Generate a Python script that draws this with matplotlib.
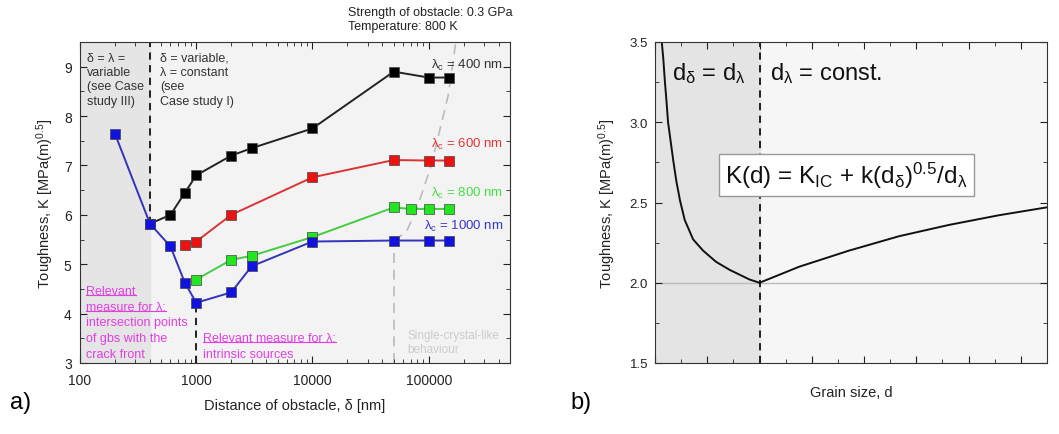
import matplotlib
matplotlib.use("Agg")
import matplotlib.pyplot as plt
from matplotlib.ticker import FixedLocator, MultipleLocator, LogLocator, NullFormatter, FormatStrFormatter, FuncFormatter
from matplotlib.lines import Line2D

plt.rcParams['font.family'] = ['Liberation Sans', 'DejaVu Sans']
plt.rcParams['mathtext.fontset'] = 'custom'
plt.rcParams['mathtext.rm'] = 'Liberation Sans'
plt.rcParams['mathtext.it'] = 'Liberation Sans:italic'
plt.rcParams['mathtext.default'] = 'regular'

# --- datos panel a) ---
d_400 = [400, 600, 800, 1000, 2000, 3000, 10000, 50000, 100000, 150000]
k_400 = [5.82, 6.0, 6.45, 6.8, 7.2, 7.35, 7.75, 8.9, 8.78, 8.78]

d_600 = [800, 1000, 2000, 10000, 50000, 100000, 150000]
k_600 = [5.38, 5.46, 6.0, 6.76, 7.11, 7.1, 7.1]

d_800 = [1000, 2000, 3000, 10000, 50000, 70000, 100000, 150000]
k_800 = [4.69, 5.09, 5.17, 5.55, 6.15, 6.12, 6.12, 6.12]

d_1000 = [200, 400, 600, 800, 1000, 2000, 3000, 10000, 50000, 100000, 150000]
k_1000 = [7.64, 5.82, 5.36, 4.62, 4.22, 4.43, 4.96, 5.46, 5.48, 5.48, 5.48]

# linea gris "single crystal"
sc_x = [50000, 64000, 78000, 105000, 147000, 171000]
sc_y = [5.48, 5.65, 6.09, 7.0, 8.42, 9.5]

# --- datos panel b) ---
g_izq = [0.13, 0.16, 0.19, 0.22, 0.25, 0.30, 0.35, 0.41, 0.48, 0.57, 0.73, 0.92,
         1.17, 1.43, 1.62, 1.81, 2.0]
kb_izq = [3.5, 3.39, 3.25, 3.13, 3.0, 2.88, 2.76, 2.63, 2.51, 2.39, 2.27, 2.20,
          2.13, 2.08, 2.05, 2.02, 2.0]
g_der = [2.0, 2.76, 3.71, 4.67, 5.62, 6.57, 7.5]
kb_der = [2.0, 2.10, 2.20, 2.29, 2.36, 2.42, 2.47]

fig = plt.figure(figsize=(10.59, 4.35), dpi=100)
ax = fig.add_axes([80/1059, 71/435, 430/1059, 321/435])
bx = fig.add_axes([655/1059, 71/435, 392/1059, 321/435])

# ---------------- panel a ----------------
ax.set_facecolor('#f3f3f3')
ax.axvspan(100, 400, color='#e5e5e5', zorder=0)
ax.plot([400, 400], [5.82, 9.5], color='#111111', lw=1.3, ls=(0, (4, 3)), zorder=1)
ax.plot([1000, 1000], [3, 4.22], color='#111111', lw=1.3, ls=(0, (4, 3)), zorder=1)
ax.plot([50000, 50000], [3, 5.48], color='#bbbbbb', lw=1.2, ls=(0, (6, 4)), zorder=1)
ax.plot(sc_x, sc_y, color='#bbbbbb', lw=1.2, ls=(0, (6, 4)), zorder=1)

series = [
    (d_400, k_400, '#000000', '#222222'),
    (d_600, k_600, '#ee1111', '#dd3333'),
    (d_800, k_800, '#22e622', '#44cc44'),
    (d_1000, k_1000, '#1111e0', '#3333bb'),
]
for d, k, c, lc in series:
    ax.plot(d, k, color=lc, lw=1.4, zorder=2)
    ax.plot(d, k, ls='none', marker='s', ms=7.8, mfc=c, mec='#444444', mew=0.5, zorder=3)

ax.set_xscale('log')
ax.set_xlim(100, 5e5)
ax.set_ylim(3, 9.5)
ax.xaxis.set_major_locator(FixedLocator([100, 1000, 10000, 100000]))
ax.xaxis.set_major_formatter(FuncFormatter(lambda v, p: '%d' % v))
ax.xaxis.set_minor_locator(LogLocator(base=10, subs=range(2, 10), numticks=20))
ax.xaxis.set_minor_formatter(NullFormatter())
ax.yaxis.set_major_locator(MultipleLocator(1))
ax.yaxis.set_minor_locator(MultipleLocator(0.5))
ax.tick_params(which='both', direction='in', top=True, right=True, labelsize=10, colors='#222222')
ax.tick_params(which='major', length=5)
ax.tick_params(which='minor', length=3)
ax.tick_params(axis='x', pad=7)
ax.tick_params(axis='y', pad=6)
ax.set_xlabel('Distance of obstacle, δ [nm]', fontsize=10.5, color='#222222', labelpad=8)
ax.set_ylabel('Toughness, K [MPa(m)$^{0.5}$]', fontsize=10.5, color='#222222', labelpad=6)
for s in ax.spines.values():
    s.set_color('#333333')

ax.text(440000, 9.04, 'λ$_c$ = 400 nm', color='#333333', fontsize=9.5, ha='right', va='center')
ax.text(440000, 7.45, 'λ$_c$ = 600 nm', color='#e03535', fontsize=9.5, ha='right', va='center')
ax.text(440000, 6.45, 'λ$_c$ = 800 nm', color='#44dd44', fontsize=9.5, ha='right', va='center')
ax.text(440000, 5.78, 'λ$_c$ = 1000 nm', color='#3535cc', fontsize=9.5, ha='right', va='center')

def fx(px):
    return (px - 80) / 430

def fy(py):
    return (364 - py) / 321

ax.text(fx(87), fy(53), 'δ = λ =\nvariable\n(see Case\nstudy III)', transform=ax.transAxes,
        fontsize=9, color='#333333', va='top', ha='left', linespacing=1.25)
ax.text(fx(160), fy(53), 'δ = variable,\nλ = constant\n(see\nCase study I)', transform=ax.transAxes,
        fontsize=9, color='#333333', va='top', ha='left', linespacing=1.25)
ax.text(fx(407), fy(330), 'Single-crystal-like\nbehaviour', transform=ax.transAxes,
        fontsize=8.5, color='#cccccc', va='top', ha='left', linespacing=1.2)

mag = '#e23ee2'
lineas_1 = ['Relevant', 'measure for λ:', 'intersection points', 'of gbs with the', 'crack front']
subr = []
for i, t in enumerate(lineas_1):
    tx = ax.text(fx(86), fy(286 + i * 15.7), t, transform=ax.transAxes, fontsize=9,
                 color=mag, va='top', ha='left')
    if i < 2:
        subr.append(tx)
lineas_2 = ['Relevant measure for λ:', 'intrinsic sources']
for i, t in enumerate(lineas_2):
    tx = ax.text(fx(203), fy(333 + i * 15.7), t, transform=ax.transAxes, fontsize=9,
                 color=mag, va='top', ha='left')
    if i == 0:
        subr.append(tx)

fig.text(348/1059, 1 - 7/435, 'Strength of obstacle: 0.3 GPa\nTemperature: 800 K',
         fontsize=9, color='#222222', va='top', ha='left', linespacing=1.25)
fig.text(10/1059, 1 - 392/435, 'a)', fontsize=17, va='top', ha='left')
fig.text(570/1059, 1 - 392/435, 'b)', fontsize=17, va='top', ha='left')

# ---------------- panel b ----------------
bx.set_facecolor('#f6f6f6')
bx.axvspan(0, 2, color='#e4e4e4', zorder=0)
bx.axhline(2.0, color='#bbbbbb', lw=1, zorder=1)
bx.plot([2, 2], [1.5, 3.5], color='#111111', lw=1.3, ls=(0, (4, 3)), zorder=1)
bx.plot(g_izq, kb_izq, color='#111111', lw=1.4, zorder=2)
bx.plot(g_der, kb_der, color='#111111', lw=1.4, zorder=2)
bx.set_xlim(0, 7.5)
bx.set_ylim(1.5, 3.5)
bx.xaxis.set_major_locator(MultipleLocator(1))
bx.xaxis.set_minor_locator(MultipleLocator(0.5))
bx.xaxis.set_major_formatter(NullFormatter())
bx.yaxis.set_major_locator(MultipleLocator(0.5))
bx.yaxis.set_minor_locator(MultipleLocator(0.25))
bx.yaxis.set_major_formatter(FormatStrFormatter('%.1f'))
bx.tick_params(which='both', direction='in', top=True, right=True, labelsize=9.5, colors='#222222')
bx.tick_params(which='major', length=5)
bx.tick_params(which='minor', length=3)
bx.tick_params(axis='y', pad=5)
bx.set_xlabel('Grain size, d', fontsize=10.5, color='#222222', labelpad=12)
bx.set_ylabel('Toughness, K [MPa(m)$^{0.5}$]', fontsize=10.5, color='#222222', labelpad=8)
for s in bx.spines.values():
    s.set_color('#333333')

bx.text(0.32, 3.31, 'd$_δ$ = d$_λ$', fontsize=17, va='center', ha='left', color='#111111')
bx.text(2.2, 3.31, 'd$_λ$ = const.', fontsize=17, va='center', ha='left', color='#111111')
bx.text(3.66, 2.67, 'K(d) = K$_{IC}$ + k(d$_δ$)$^{0.5}$/d$_λ$', fontsize=17.5, va='center', ha='center',
        color='#111111', bbox=dict(facecolor='white', edgecolor='#999999', boxstyle='square,pad=0.25'))

# subrayado del texto magenta
fig.canvas.draw()
r = fig.canvas.get_renderer()
inv = fig.transFigure.inverted()
for tx in subr:
    bb = tx.get_window_extent(renderer=r)
    (x0, y0), (x1, y1) = inv.transform([(bb.x0, bb.y0 + 2), (bb.x1, bb.y0 + 2)])
    fig.add_artist(Line2D([x0, x1], [y0, y1], color=mag, lw=0.8))

fig.savefig('out.png', dpi=100)
